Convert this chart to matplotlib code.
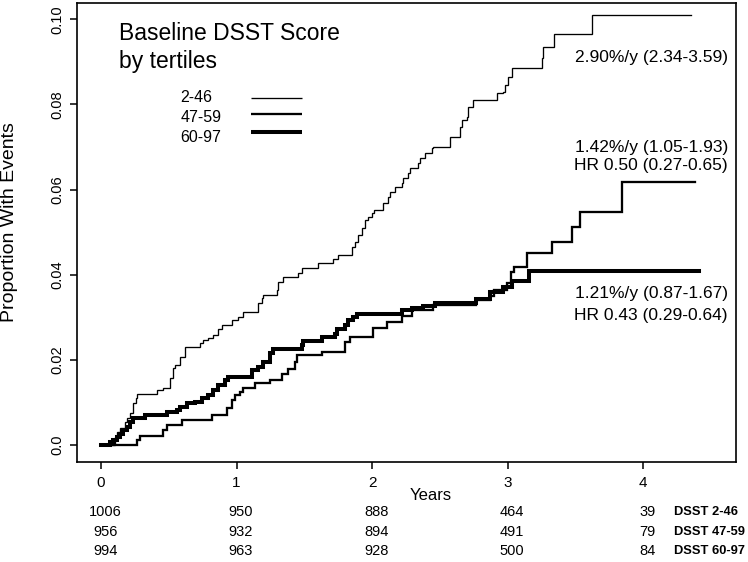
import numpy as np
import matplotlib
matplotlib.use("Agg")
import matplotlib.pyplot as plt
from matplotlib.transforms import blended_transform_factory

plt.rcParams["font.family"] = ["Liberation Sans", "DejaVu Sans"]

# cumulative incidence, step times (years) and value after each step
t_246 = [0, 0.103, 0.116, 0.140, 0.177, 0.190, 0.214, 0.238, 0.258, 0.263, 0.411, 0.460,
         0.509, 0.529, 0.546, 0.583, 0.620, 0.731, 0.755, 0.792, 0.829, 0.866, 0.891, 0.965,
         1.013, 1.050, 1.161, 1.186, 1.198, 1.297, 1.309, 1.345, 1.456, 1.481, 1.604, 1.714,
         1.751, 1.850, 1.875, 1.899, 1.924, 1.948, 1.973, 1.998, 2.015, 2.083, 2.120, 2.133,
         2.170, 2.219, 2.231, 2.268, 2.280, 2.342, 2.354, 2.391, 2.441, 2.452, 2.576, 2.649,
         2.662, 2.699, 2.711, 2.748, 2.920, 2.969, 2.982, 3.006, 3.031, 3.252, 3.264, 3.343,
         3.626, 4.352]
p_246 = [0, 0.0020, 0.0031, 0.0041, 0.0055, 0.0063, 0.0075, 0.0099, 0.0110, 0.0120, 0.0129, 0.0134,
         0.0157, 0.0181, 0.0188, 0.0207, 0.0231, 0.0239, 0.0247, 0.0251, 0.0258, 0.0272, 0.0282, 0.0294,
         0.0301, 0.0313, 0.0333, 0.0345, 0.0352, 0.0364, 0.0384, 0.0394, 0.0405, 0.0415, 0.0427, 0.0438,
         0.0446, 0.0466, 0.0478, 0.0493, 0.0509, 0.0529, 0.0536, 0.0544, 0.0552, 0.0568, 0.0583, 0.0595,
         0.0607, 0.0615, 0.0627, 0.0638, 0.0650, 0.0662, 0.0674, 0.0685, 0.0697, 0.0701, 0.0724, 0.0748,
         0.0764, 0.0771, 0.0795, 0.0811, 0.0826, 0.0830, 0.0846, 0.0865, 0.0885, 0.0909, 0.0936, 0.0965,
         0.1010, 0.1010]

t_4759 = [0, 0.263, 0.288, 0.460, 0.485, 0.596, 0.817, 0.928, 0.965, 0.989, 1.026, 1.050,
          1.137, 1.247, 1.334, 1.382, 1.432, 1.444, 1.629, 1.801, 1.838, 2.010, 2.108, 2.219,
          2.295, 2.450, 2.768, 2.871, 2.900, 2.999, 3.024, 3.048, 3.142, 3.326, 3.474, 3.535,
          3.843, 4.382]
p_4759 = [0, 0.0012, 0.0021, 0.0035, 0.0047, 0.0060, 0.0070, 0.0086, 0.0106, 0.0117, 0.0125, 0.0133,
          0.0145, 0.0153, 0.0167, 0.0179, 0.0195, 0.0211, 0.0219, 0.0242, 0.0254, 0.0274, 0.0289, 0.0303,
          0.0318, 0.0330, 0.0340, 0.0350, 0.0364, 0.0380, 0.0407, 0.0419, 0.0450, 0.0478, 0.0512, 0.0548,
          0.0617, 0.0617]

t_6097 = [0, 0.066, 0.091, 0.116, 0.140, 0.165, 0.190, 0.214, 0.238, 0.325, 0.485, 0.559,
          0.583, 0.632, 0.694, 0.743, 0.792, 0.829, 0.866, 0.915, 0.939, 1.114, 1.161, 1.198,
          1.247, 1.272, 1.481, 1.493, 1.629, 1.727, 1.739, 1.801, 1.825, 1.862, 1.887, 2.219,
          2.293, 2.379, 2.465, 2.768, 2.871, 2.967, 3.033, 3.159, 4.413]
p_6097 = [0, 0.0008, 0.0012, 0.0020, 0.0027, 0.0035, 0.0043, 0.0055, 0.0063, 0.0070, 0.0078, 0.0082,
          0.0090, 0.0098, 0.0102, 0.0110, 0.0117, 0.0129, 0.0141, 0.0153, 0.0160, 0.0176, 0.0184, 0.0196,
          0.0216, 0.0226, 0.0235, 0.0244, 0.0254, 0.0262, 0.0273, 0.0282, 0.0293, 0.0301, 0.0308, 0.0317,
          0.0321, 0.0327, 0.0333, 0.0343, 0.0359, 0.0371, 0.0385, 0.0409, 0.0409]

group_labels = ["2-46", "47-59", "60-97"]
rate_text = [["2.90%/y (2.34-3.59)"],
             ["1.42%/y (1.05-1.93)", "HR 0.50 (0.27-0.65)"],
             ["1.21%/y (0.87-1.67)", "HR 0.43 (0.29-0.64)"]]

# numbers at risk
risk_times = [0, 1, 2, 3, 4]
risk_246 = [1006, 950, 888, 464, 39]
risk_4759 = [956, 932, 894, 491, 79]
risk_6097 = [994, 963, 928, 500, 84]

widths = [0.95, 1.65, 2.9]

fig = plt.figure(figsize=(7.48, 5.62), dpi=100)
ax = fig.add_axes([0.1025, 0.1785, 0.8811, 0.8167])

curves = [(t_246, p_246), (t_4759, p_4759), (t_6097, p_6097)]
for (t, p), lw in zip(curves, widths):
    ax.step(t, p, where="post", color="black", linewidth=lw, solid_joinstyle="miter")

ax.set_xlim(-0.18, 4.684)
ax.set_ylim(-0.0039, 0.1039)
ax.set_xticks([0, 1, 2, 3, 4])
ax.set_yticks([0, 0.02, 0.04, 0.06, 0.08, 0.10])
ax.set_yticklabels(["0.0", "0.02", "0.04", "0.06", "0.08", "0.10"])
ax.tick_params(axis="x", direction="out", length=5, width=1.1, labelsize=11, pad=5)
ax.tick_params(axis="y", direction="out", length=5, width=1.1, labelsize=10.5, pad=4)
for lab in ax.get_yticklabels():
    lab.set_rotation(90)
    lab.set_va("center")
for sp in ax.spines.values():
    sp.set_linewidth(1.2)

# legend drawn by hand (labels left, keys right)
ax.text(0.064, 0.9187, "Baseline DSST Score", transform=ax.transAxes, fontsize=16.5, va="baseline")
ax.text(0.064, 0.857, "by tertiles", transform=ax.transAxes, fontsize=16.5, va="baseline")
text_y = [0.7845, 0.7407, 0.697]
key_y = [0.7924, 0.757, 0.719]
for lab, ty, ky, lw in zip(group_labels, text_y, key_y, widths):
    ax.text(0.157, ty, lab, transform=ax.transAxes, fontsize=11.5, va="baseline")
    ax.plot([0.2646, 0.342], [ky, ky], transform=ax.transAxes, color="black",
            linewidth=lw, solid_capstyle="butt")

# rates / hazard ratios
ann_y = [[0.8715], [0.675, 0.6355], [0.356, 0.3087]]
for lines, ys in zip(rate_text, ann_y):
    for s, y in zip(lines, ys):
        ax.text(0.988, y, s, transform=ax.transAxes, fontsize=12.5, ha="right", va="baseline")

fig.text(10 / 748, 1 - 222 / 562, "Proportion With Events", rotation=90,
         ha="center", va="center", fontsize=14)
fig.text(431 / 748, 1 - 496 / 562, "Years", ha="center", va="center", fontsize=12)

# at risk table
trans = blended_transform_factory(ax.transData, fig.transFigure)
row_y = [1 - 512 / 562, 1 - 532 / 562, 1 - 551 / 562]
for counts, ry, lab in zip([risk_246, risk_4759, risk_6097], row_y, group_labels):
    for t, n in zip(risk_times, counts):
        ax.text(t + 0.03, ry, str(n), transform=trans, ha="center", va="center",
                fontsize=10.5, clip_on=False)
    ax.text(4.225, ry, "DSST " + lab, transform=trans, ha="left", va="center",
            fontsize=9.3, fontweight="bold", clip_on=False)

fig.savefig("out.png", dpi=100)
